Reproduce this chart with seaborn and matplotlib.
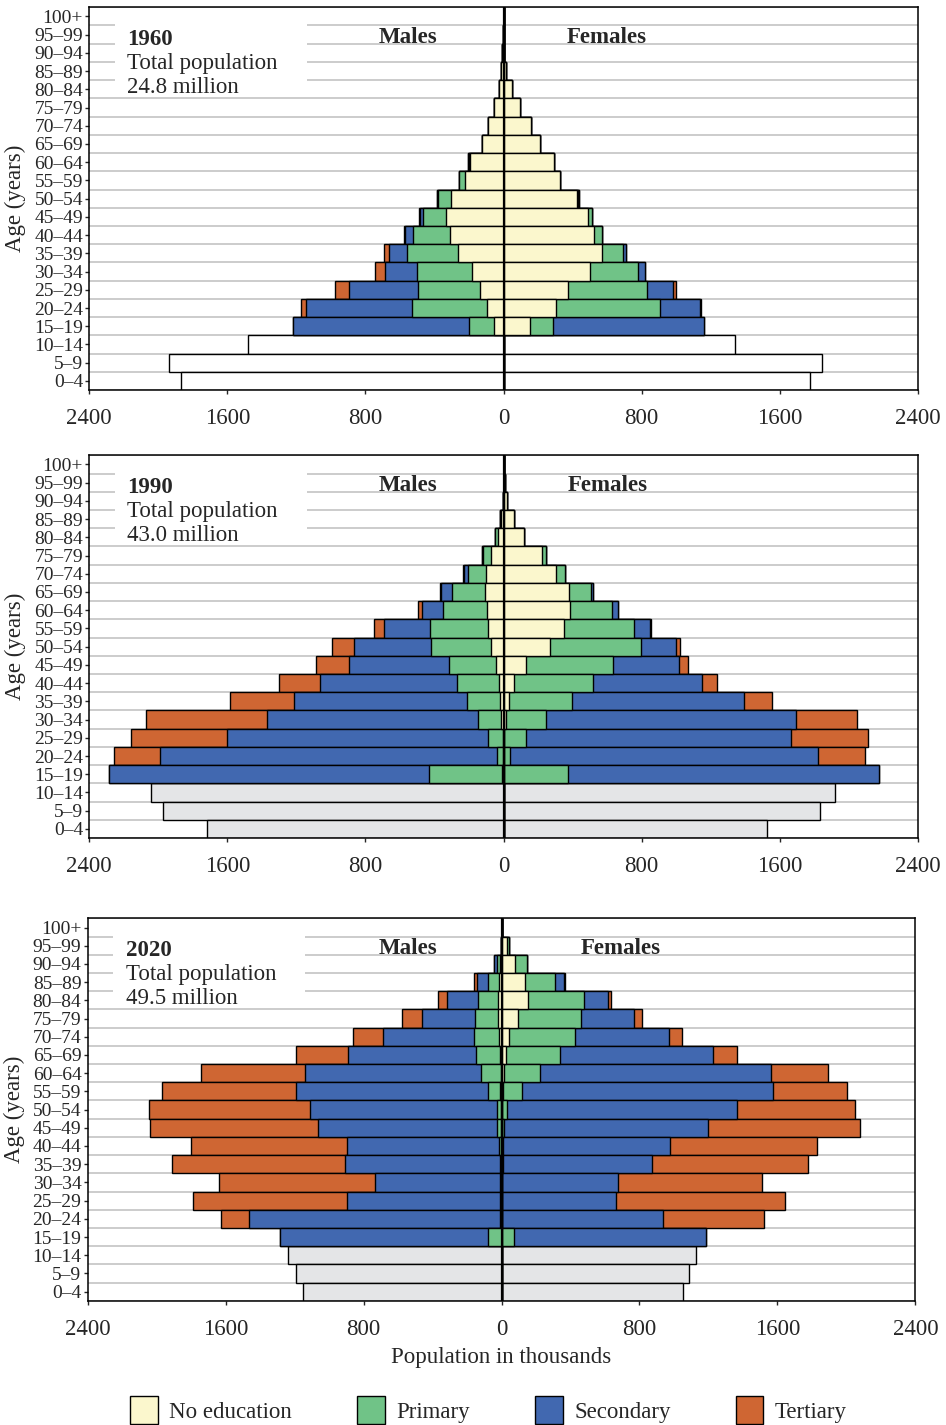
import numpy as np
import pandas as pd
import matplotlib
matplotlib.use('Agg')
import matplotlib.pyplot as plt
from matplotlib.patches import Patch, Rectangle
import seaborn as sns

# age groups, youngest first
ages = ['0–4', '5–9', '10–14', '15–19', '20–24', '25–29', '30–34', '35–39', '40–44',
        '45–49', '50–54', '55–59', '60–64', '65–69', '70–74', '75–79', '80–84',
        '85–89', '90–94', '95–99', '100+']
levels = ['No education', 'Primary', 'Secondary', 'Tertiary']

# 1960 (thousands) - children 0-14 only have a total, adults 15-19 .. 100+
m1960_child = [1869, 1937, 1479]
m1960_ne = [56, 93, 137, 180, 266, 311, 334, 307, 226, 195, 126, 89, 54, 25, 12, 6, 1, 0]
m1960_pri = [143, 440, 359, 324, 296, 212, 131, 71, 31, 6, 0, 0, 0, 0, 0, 0, 0, 0]
m1960_sec = [1019, 612, 398, 183, 104, 49, 16, 8, 0, 3, 0, 0, 0, 0, 0, 0, 0, 0]
m1960_ter = [0, 31, 85, 60, 27, 4, 6, 0, 0, 0, 0, 0, 0, 0, 0, 0, 0, 0]
f1960_child = [1778, 1845, 1341]
f1960_ne = [151, 307, 371, 504, 572, 524, 491, 425, 327, 292, 213, 160, 97, 48, 12, 4, 0, 0]
f1960_pri = [137, 601, 458, 275, 122, 46, 19, 4, 0, 0, 0, 0, 0, 0, 0, 0, 0, 0]
f1960_sec = [873, 228, 153, 42, 17, 2, 0, 8, 0, 0, 0, 0, 0, 0, 0, 0, 0, 0]
f1960_ter = [0, 10, 17, 0, 0, 0, 0, 0, 0, 0, 0, 0, 0, 0, 0, 0, 0, 0]

# 1990
m1990_child = [1716, 1973, 2043]
m1990_ne = [8, 3, 4, 12, 19, 25, 43, 70, 89, 95, 110, 99, 70, 33, 14, 2, 0, 0]
m1990_pri = [425, 36, 87, 135, 192, 246, 274, 351, 336, 255, 190, 108, 50, 15, 5, 0, 0, 0]
m1990_sec = [1855, 1953, 1511, 1225, 1001, 790, 580, 447, 269, 121, 61, 23, 6, 2, 0, 0, 0, 0]
m1990_ter = [0, 263, 558, 700, 374, 241, 187, 125, 58, 24, 8, 2, 0, 0, 0, 0, 0, 0]
f1990_child = [1525, 1834, 1919]
f1990_ne = [4, 2, 5, 17, 29, 58, 131, 267, 350, 383, 377, 303, 222, 116, 58, 23, 8, 0]
f1990_pri = [371, 35, 124, 230, 367, 458, 503, 527, 407, 247, 129, 56, 23, 4, 0, 0, 0, 0]
f1990_sec = [1799, 1783, 1537, 1448, 999, 634, 382, 203, 89, 33, 10, 0, 0, 0, 0, 0, 0, 0]
f1990_ter = [0, 273, 446, 353, 161, 87, 53, 23, 6, 0, 0, 0, 0, 0, 0, 0, 0, 0]

# 2020
m2020_child = [1154, 1194, 1239]
m2020_ne = [0, 2, 1, 2, 2, 3, 4, 5, 8, 5, 10, 15, 23, 19, 17, 10, 2, 0]
m2020_pri = [77, 4, 5, 4, 8, 14, 21, 24, 73, 115, 139, 147, 130, 116, 60, 19, 0, 0]
m2020_sec = [1206, 1457, 893, 728, 896, 882, 1038, 1084, 1109, 1020, 744, 524, 309, 180, 64, 15, 0, 0]
m2020_ter = [0, 166, 888, 903, 1005, 904, 978, 931, 777, 601, 297, 178, 116, 56, 16, 0, 0, 0]
f2020_child = [1054, 1089, 1126]
f2020_ne = [2, 1, 1, 1, 2, 2, 3, 4, 10, 15, 25, 44, 93, 151, 137, 77, 29, 2]
f2020_pri = [71, 3, 3, 3, 4, 6, 14, 25, 110, 207, 315, 380, 367, 325, 174, 68, 13, 0]
f2020_sec = [1113, 932, 661, 671, 866, 971, 1182, 1337, 1456, 1339, 884, 545, 306, 139, 49, 4, 0, 0]
f2020_ter = [0, 584, 977, 838, 904, 853, 882, 684, 426, 331, 144, 75, 48, 19, 9, 0, 0, 0]

years = ['1960', '1990', '2020']
totals = ['24.8', '43.0', '49.5']

colors = {'No education': '#fbf7cd', 'Primary': '#70c387',
          'Secondary': '#4168b0', 'Tertiary': '#cf6633'}
child_colors = ['#ffffff', '#e4e5e7', '#e4e5e7']

sns.set_style('ticks')
plt.rcParams['font.family'] = ['Liberation Serif', 'DejaVu Serif']
plt.rcParams['axes.edgecolor'] = 'black'


def make_df(child, ne, pri, sec, ter):
    df = pd.DataFrame({'age': ages,
                       'children': child + [0] * 18,
                       'No education': [0] * 3 + ne,
                       'Primary': [0] * 3 + pri,
                       'Secondary': [0] * 3 + sec,
                       'Tertiary': [0] * 3 + ter})
    for lv in levels:
        df[lv + ' cum'] = df[levels[:levels.index(lv) + 1]].sum(axis=1)
    return df


panels = [
    (make_df(m1960_child, m1960_ne, m1960_pri, m1960_sec, m1960_ter),
     make_df(f1960_child, f1960_ne, f1960_pri, f1960_sec, f1960_ter)),
    (make_df(m1990_child, m1990_ne, m1990_pri, m1990_sec, m1990_ter),
     make_df(f1990_child, f1990_ne, f1990_pri, f1990_sec, f1990_ter)),
    (make_df(m2020_child, m2020_ne, m2020_pri, m2020_sec, m2020_ter),
     make_df(f2020_child, f2020_ne, f2020_pri, f2020_sec, f2020_ter)),
]

axes_pos = [[0.0944, 0.7263, 0.8757, 0.2686],
            [0.0944, 0.4119, 0.8757, 0.2686],
            [0.0927, 0.0872, 0.8749, 0.2683]]
sex_label_x = [(-556, 600), (-554, 604), (-543, 689)]

fig = plt.figure(figsize=(9.46, 14.25), dpi=100)
order = ages[::-1]

for i, (dfm, dff) in enumerate(panels):
    ax = fig.add_axes(axes_pos[i])
    for df, sign in ((dfm, -1), (dff, 1)):
        sns.barplot(x=sign * df['children'], y=df['age'], order=order, orient='h',
                    color=child_colors[i], width=1, saturation=1, errorbar=None,
                    edgecolor='black', linewidth=1.0, ax=ax)
        # outermost cumulative first, inner levels painted over it
        for lv in levels[::-1]:
            sns.barplot(x=sign * df[lv + ' cum'], y=df['age'], order=order, orient='h',
                        color=colors[lv], width=1, saturation=1, errorbar=None,
                        edgecolor='black', linewidth=1.0, ax=ax)
    ax.axvline(0, color='black', lw=1.6, zorder=6)
    ax.set_xlim(-2400, 2400)
    ax.set_ylim(20.5, -0.5)
    ax.set_xticks([-2400, -1600, -800, 0, 800, 1600, 2400])
    ax.set_xticklabels(['2400', '1600', '800', '0', '800', '1600', '2400'])
    ax.set_yticks(range(21))
    ax.set_yticklabels(order)
    ax.set_yticks(np.arange(-0.5, 21, 1), minor=True)
    ax.grid(which='minor', axis='y', color='#c8c8c8', lw=1.3)
    ax.grid(which='major', visible=False)
    ax.set_axisbelow(True)
    ax.tick_params(which='minor', length=0)
    ax.tick_params(axis='x', length=3, width=1, pad=10, labelsize=16.5)
    ax.tick_params(axis='y', which='major', length=3, width=1, pad=1.5, labelsize=14)
    for s in ax.spines.values():
        s.set_linewidth(1.1)
        s.set_color('black')
    ax.set_xlabel('')
    ax.set_ylabel('Age (years)', fontsize=16.5)
    ax.yaxis.set_label_coords(-0.076, 0.5)

    # white patch behind the title block
    ax.add_patch(Rectangle((0.031, 0.77), 0.232, 0.228, transform=ax.transAxes,
                           facecolor='white', edgecolor='none', zorder=1.5))
    ax.text(0.046, 0.9015, years[i], transform=ax.transAxes, fontsize=16.5,
            fontweight='bold', va='baseline', zorder=7)
    ax.text(0.046, 0.8388, 'Total population', transform=ax.transAxes,
            fontsize=16.5, va='baseline', zorder=7)
    ax.text(0.046, 0.776, totals[i] + ' million', transform=ax.transAxes,
            fontsize=16.5, va='baseline', zorder=7)
    tr = ax.get_xaxis_transform()
    ax.text(sex_label_x[i][0], 0.906, 'Males', transform=tr, ha='center',
            va='baseline', fontsize=16.5, fontweight='bold', zorder=7)
    ax.text(sex_label_x[i][1], 0.906, 'Females', transform=tr, ha='center',
            va='baseline', fontsize=16.5, fontweight='bold', zorder=7)

fig.text(501.5 / 946, 1 - 1358 / 1425, 'Population in thousands', ha='center',
         va='center', fontsize=16.5)

handles = [Patch(facecolor=colors[lv], edgecolor='black', linewidth=1.0, label=lv)
           for lv in levels]
fig.legend(handles=handles, loc='center', bbox_to_anchor=(488.5 / 946, 1 - 1410 / 1425),
           ncol=4, frameon=False, fontsize=16.5, handlelength=1.2, handleheight=1.45,
           handletextpad=0.5, columnspacing=2.85, borderpad=0)

fig.savefig('out.png', dpi=100)
